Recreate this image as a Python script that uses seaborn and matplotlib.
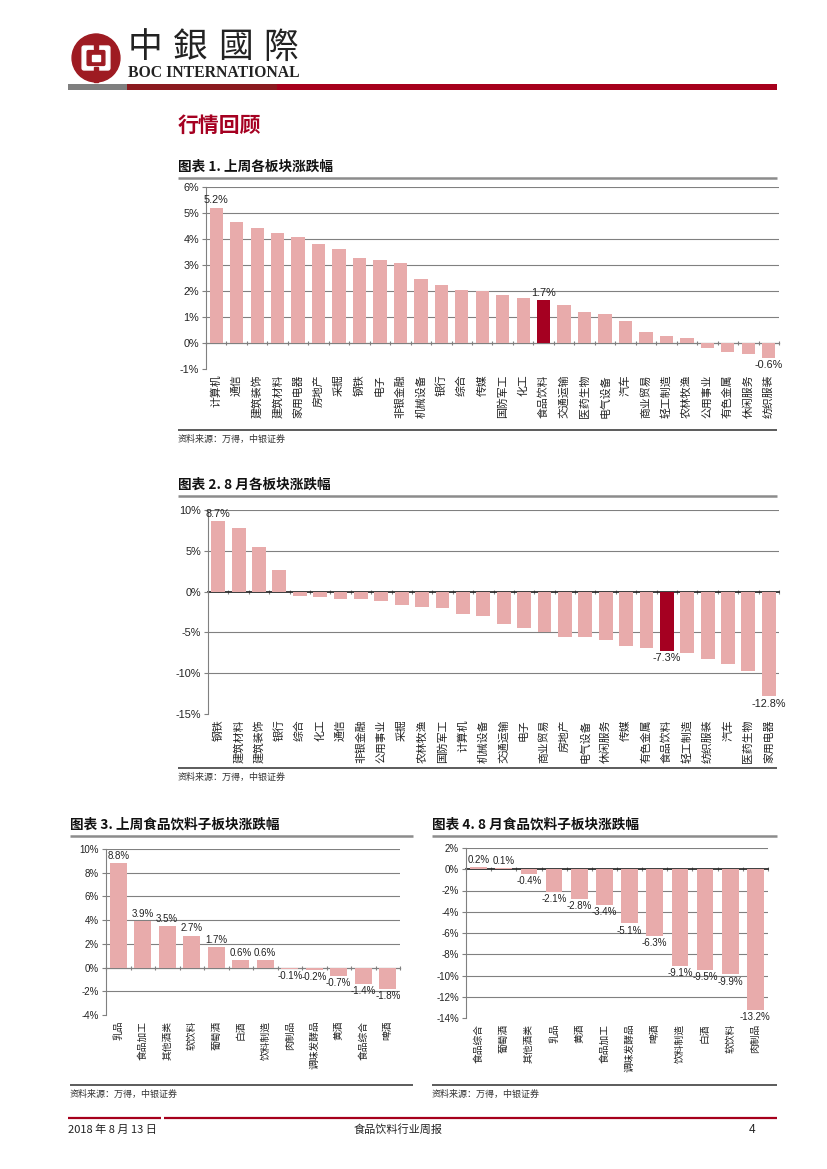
import numpy as np
import pandas as pd
import matplotlib
matplotlib.use("Agg")
import matplotlib.pyplot as plt
from matplotlib.patches import Rectangle, Circle, FancyBboxPatch
from matplotlib.lines import Line2D
import seaborn as sns

# ---------------- data ----------------
c1_labels = ["计算机", "通信", "建筑装饰", "建筑材料", "家用电器", "房地产", "采掘", "钢铁", "电子",
             "非银金融", "机械设备", "银行", "综合", "传媒", "国防军工", "化工", "食品饮料", "交通运输",
             "医药生物", "电气设备", "汽车", "商业贸易", "轻工制造", "农林牧渔", "公用事业", "有色金属",
             "休闲服务", "纺织服装"]
c1_values = [5.21, 4.65, 4.43, 4.25, 4.08, 3.82, 3.62, 3.26, 3.20, 3.08, 2.46, 2.23, 2.05, 2.00,
             1.85, 1.72, 1.66, 1.47, 1.21, 1.12, 0.84, 0.43, 0.27, 0.18, -0.19, -0.34, -0.43, -0.59]
c1_annot = ["计算机", "食品饮料", "纺织服装"]

c2_labels = ["钢铁", "建筑材料", "建筑装饰", "银行", "综合", "化工", "通信", "非银金融", "公用事业",
             "采掘", "农林牧渔", "国防军工", "计算机", "机械设备", "交通运输", "电子", "商业贸易",
             "房地产", "电气设备", "休闲服务", "传媒", "有色金属", "食品饮料", "轻工制造", "纺织服装",
             "汽车", "医药生物", "家用电器"]
c2_values = [8.66, 7.85, 5.49, 2.60, -0.57, -0.69, -0.89, -0.93, -1.14, -1.67, -1.87, -1.99,
             -2.72, -2.93, -4.02, -4.51, -5.00, -5.57, -5.57, -5.89, -6.63, -6.95, -7.28, -7.48,
             -8.29, -8.90, -9.72, -12.85]
c2_annot = ["钢铁", "食品饮料", "家用电器"]

c3_labels = ["乳品", "食品加工", "其他酒类", "软饮料", "葡萄酒", "白酒", "饮料制造", "肉制品",
             "调味发酵品", "黄酒", "食品综合", "啤酒"]
c3_values = [8.8, 3.9, 3.5, 2.7, 1.7, 0.6, 0.6, -0.1, -0.2, -0.7, -1.4, -1.8]

c4_labels = ["食品综合", "葡萄酒", "其他酒类", "乳品", "黄酒", "食品加工", "调味发酵品", "啤酒",
             "饮料制造", "白酒", "软饮料", "肉制品"]
c4_values = [0.2, 0.1, -0.4, -2.1, -2.8, -3.4, -5.1, -6.3, -9.1, -9.5, -9.9, -13.2]

highlight = "食品饮料"

# ---------------- style ----------------
sns.set_theme(style="white")
CJK = ["Noto Sans CJK SC", "DejaVu Sans"]
NUM = ["Liberation Sans Narrow", "Liberation Sans", "DejaVu Sans"]
plt.rcParams["font.family"] = CJK
plt.rcParams["axes.unicode_minus"] = False

PINK = "#E8ABAB"
DARK = "#A50021"
GRID = "#808080"

W, H = 827, 1169
fig = plt.figure(figsize=(W / 100, H / 100), dpi=100)
fig.patch.set_facecolor("white")


def fx(x):
    return x / W


def fy(y):
    return 1 - y / H


def add_axes_px(x0, y0, x1, y1):
    return fig.add_axes([fx(x0), fy(y1), (x1 - x0) / W, (y1 - y0) / H])


def hline_px(x0, x1, y, color, lw):
    fig.add_artist(Line2D([fx(x0), fx(x1)], [fy(y), fy(y)], transform=fig.transFigure,
                          color=color, lw=lw, solid_capstyle="butt"))


def text_px(x, y, s, **kw):
    fig.text(fx(x), fy(y), s, **kw)


# ---------------- header ----------------
logo_ax = add_axes_px(68, 30, 124, 86)
logo_ax.set_xlim(-1.17, 1.17)
logo_ax.set_ylim(-1.17, 1.17)
logo_ax.set_aspect("equal")
logo_ax.axis("off")
LOGO = "#9E1B22"
logo_ax.add_patch(Circle((0, 0), 1.0, color=LOGO))
logo_ax.add_patch(FancyBboxPatch((-0.5, -0.42), 1.0, 0.84, boxstyle="round,pad=0.08", color="white"))
logo_ax.add_patch(FancyBboxPatch((-0.32, -0.26), 0.64, 0.52, boxstyle="round,pad=0.05", color=LOGO))
logo_ax.add_patch(Rectangle((-0.16, -0.12), 0.32, 0.24, color="white"))
logo_ax.add_patch(Rectangle((-0.09, -1.0), 0.18, 0.62, color=LOGO))
logo_ax.add_patch(Rectangle((-0.09, 0.38), 0.18, 0.62, color=LOGO))

for ch, x in zip("中銀國際", [128, 173, 218, 263]):
    text_px(x, 48, ch, fontsize=25, family=["Noto Sans CJK TC", "DejaVu Sans"],
            fontweight="light", color="#222222", va="center", ha="left")
text_px(128, 73, "BOC INTERNATIONAL", fontsize=11.3, family=["Liberation Serif", "DejaVu Serif"],
        fontweight="bold", color="#222222", va="center", ha="left")

fig.add_artist(Rectangle((fx(68), fy(90)), fx(127) - fx(68), 6 / H, transform=fig.transFigure,
                         color="#7F7F7F", lw=0))
fig.add_artist(Rectangle((fx(127), fy(90)), fx(277) - fx(127), 6 / H, transform=fig.transFigure,
                         color="#8B1A1F", lw=0))
fig.add_artist(Rectangle((fx(277), fy(90)), fx(777) - fx(277), 6 / H, transform=fig.transFigure,
                         color="#A6001C", lw=0))

text_px(178, 125, "行情回顾", fontsize=15, fontweight="bold", color=DARK, va="center", ha="left")


# ---------------- chart helper ----------------
def draw_chart(box, labels, values, ymin, ymax, step, annot, title, title_x, title_y, line_x1,
               src_y, width, label_fs=7.8, tick_fs=7.8, annot_fs=7.8):
    x0, y0, x1, y1 = box
    ax = add_axes_px(x0, y0, x1, y1)
    df = pd.DataFrame({"cat": labels, "val": values})
    palette = {c: (DARK if c == highlight else PINK) for c in labels}
    sns.barplot(data=df, x="cat", y="val", hue="cat", order=labels, palette=palette,
                width=width, legend=False, ax=ax, saturation=1, edgecolor="none")
    n = len(labels)
    ax.set_xlim(-0.5, n - 0.5)
    ax.set_ylim(ymin, ymax)
    ticks = np.arange(ymin, ymax + step / 2, step)
    ax.set_yticks(ticks)
    ax.set_yticklabels([f"{int(t)}%" for t in ticks], fontsize=tick_fs, family=NUM, color="#222222")
    for t in ticks:
        if t > ymin and t != 0:
            ax.axhline(t, color=GRID, lw=0.8, zorder=0)
    ax.set_xticks(np.arange(n))
    ax.set_xticklabels(labels, rotation=90, fontsize=label_fs, color="#222222", va="top", ha="center")
    ax.tick_params(axis="x", length=0, pad=4)
    ax.tick_params(axis="y", length=3, width=0.8, color=GRID, direction="out", pad=2, left=True)
    ax.set_xlabel("")
    ax.set_ylabel("")
    for side in ["top", "right", "bottom"]:
        ax.spines[side].set_visible(False)
    ax.spines["left"].set_color(GRID)
    ax.spines["left"].set_linewidth(0.8)
    ax.grid(False)
    frac = (0 - ymin) / (ymax - ymin)
    sec = ax.secondary_xaxis(frac)
    sec.set_xticks(np.arange(n + 1) - 0.5)
    sec.set_xticklabels([])
    sec.tick_params(length=3, width=0.8, color=GRID, direction="inout")
    sec.spines["bottom"].set_color(GRID)
    sec.spines["bottom"].set_linewidth(0.9)
    for i, (c, v) in enumerate(zip(labels, values)):
        if annot is None or c in annot:
            ax.annotate(f"{v:.1f}%", (i, v), xytext=(0, 1.5 if v >= 0 else -1.5),
                        textcoords="offset points", ha="center",
                        va="bottom" if v >= 0 else "top", fontsize=annot_fs, family=NUM,
                        color="#222222")
    text_px(title_x, title_y, title, fontsize=9.8, fontweight="bold", color="#111111",
            va="center", ha="left")
    hline_px(title_x, line_x1, title_y + 11, "#8C8C8C", 1.8)
    hline_px(title_x, line_x1, src_y - 9, "#404040", 1.2)
    text_px(title_x, src_y, "资料来源：万得，中银证券", fontsize=6.5, style="italic",
            color="#333333", va="center", ha="left")
    return ax


draw_chart((206, 187, 779, 369), c1_labels, c1_values, -1, 6, 1, c1_annot,
           "图表 1. 上周各板块涨跌幅", 178, 167, 777, 439, 0.65)
draw_chart((208, 510, 779, 714), c2_labels, c2_values, -15, 10, 5, c2_annot,
           "图表 2. 8 月各板块涨跌幅", 178, 485, 777, 777, 0.68)
draw_chart((106, 849, 400, 1015), c3_labels, c3_values, -4, 10, 2, None,
           "图表 3. 上周食品饮料子板块涨跌幅", 70, 825, 413, 1094, 0.68,
           label_fs=7.0, tick_fs=7.0, annot_fs=7.0)
draw_chart((466, 848, 768, 1018), c4_labels, c4_values, -14, 2, 2, None,
           "图表 4. 8 月食品饮料子板块涨跌幅", 432, 825, 777, 1094, 0.66,
           label_fs=7.0, tick_fs=7.0, annot_fs=7.0)

# ---------------- footer ----------------
hline_px(68, 161, 1118, "#A6001C", 1.6)
hline_px(164, 777, 1118, "#A6001C", 1.6)
text_px(68, 1130, "2018 年 8 月 13 日", fontsize=8, color="#222222", va="center", ha="left")
text_px(398, 1130, "食品饮料行业周报", fontsize=8, color="#222222", va="center", ha="center")
text_px(752, 1130, "4", fontsize=8.5, family=NUM, color="#222222", va="center", ha="center")

fig.savefig("out.png", dpi=100, facecolor="white")
